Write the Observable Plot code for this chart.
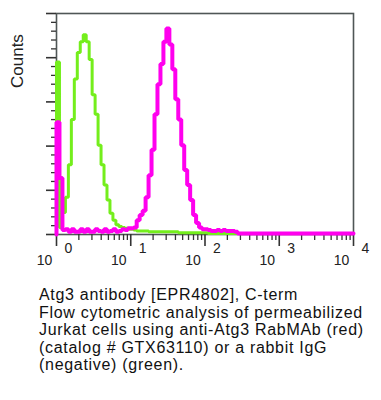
<!DOCTYPE html>
<html>
<head>
<meta charset="utf-8">
<script src="https://cdn.jsdelivr.net/npm/d3@7"></script>
<script src="https://cdn.jsdelivr.net/npm/@observablehq/plot@0.6"></script>
<style>
  html, body { margin: 0; padding: 0; background: #fff; }
  #chart svg { display: block; }
  #caption {
    font-family: "Liberation Sans", Arial, sans-serif;
    font-size: 16px;
    letter-spacing: 0.7px;
    line-height: 17.5px;
    color: #111;
    padding-left: 39px;
    margin-top: 8px;
    white-space: nowrap;
  }
</style>
</head>
<body>
<div id="chart"></div>
<div id="caption">Atg3 antibody [EPR4802], C-term<br>Flow cytometric analysis of permeabilized<br>Jurkat cells using anti-Atg3 RabMAb (red)<br>(catalog # GTX63110) or a rabbit IgG<br>(negative) (green).</div>
<script>
// Histogram channels: 100 bins over 4 decades (log10 0 .. 4)
const channelLogWidth = 0.04;
const decades = [1, 10, 100, 1000, 10000];
const exponentLabels = ["0", "1", "2", "3", "4"];
const baseLabel = "10";
const yMajorTicks = [0, 50, 100, 150, 200, 250];

// Rabbit IgG (negative), green
const greenCounts = [
  195, 8, 25, 42, 79, 130, 176, 206, 218, 226,
  218, 198, 158, 136, 101, 79, 56, 39, 24, 16,
  11, 9, 8, 7, 6, 6, 5, 4, 4, 4,
  4, 3, 3, 3, 3, 3, 3, 3, 3, 3,
  3, 2, 2, 2, 2, 2, 2, 2, 2, 2,
  2, 1, 1, 1, 1, 1, 1, 1, 1, 1,
  1, 1, 1, 1, 1, 1, 1, 1, 1, 1,
  1, 1, 1, 1, 1, 1, 1, 1, 1, 1,
  1, 1, 1, 1, 1, 1, 1, 1, 1, 1,
  1, 1, 1, 1, 1, 1, 1, 1, 1, 1
];
// anti-Atg3 RabMAb, magenta
const magentaCounts = [
  127, 64, 5, 6, 3, 6, 3, 3, 6, 3,
  6, 3, 3, 6, 4, 3, 6, 3, 4, 6,
  3, 4, 6, 5, 7, 7, 8, 16, 22, 27,
  42, 67, 96, 136, 170, 193, 218, 233, 215, 187,
  153, 130, 101, 73, 56, 39, 22, 13, 8, 6,
  6, 5, 4, 4, 5, 4, 5, 4, 4, 4,
  3, 1, 1, 1, 1, 1, 1, 1, 1, 1,
  1, 1, 1, 1, 1, 1, 1, 1, 1, 1,
  1, 1, 1, 1, 1, 1, 1, 1, 1, 1,
  1, 1, 1, 1, 1, 1, 1, 1, 1, 1
];

const edges = d3.range(greenCounts.length + 1).map(i => 10 ** (i * channelLogWidth));
function steps(counts) {
  const rows = [{x: edges[0], y: 0}];
  counts.forEach((c, i) => rows.push({x: edges[i], y: c}));
  rows.push({x: edges[counts.length], y: counts[counts.length - 1]});
  return rows;
}
const greenRows = steps(greenCounts);
const magentaRows = steps(magentaCounts);

const minorX = [];
for (let d = 1; d < 10000; d *= 10) for (let k = 2; k <= 9; k++) minorX.push(d * k);
const minorY = d3.range(0, 251, 10).filter(v => v % 50 !== 0);

const font = "Liberation Sans, Arial, sans-serif";

const chart = Plot.plot({
  width: 381,
  height: 278,
  marginLeft: 56,
  marginRight: 28,
  marginTop: 13,
  marginBottom: 44,
  style: {fontFamily: font, background: "#fff"},
  x: {type: "log", domain: [1, 10000]},
  y: {domain: [0, 250]},
  marks: [
    Plot.frame({stroke: "#4f5656", strokeWidth: 1.6}),
    Plot.axisX({ticks: minorX, tickSize: 6, text: null, label: null, stroke: "#333", strokeWidth: 1.3}),
    Plot.axisX({ticks: decades, tickSize: 12, text: null, label: null, stroke: "#333", strokeWidth: 1.6}),
    Plot.axisY({ticks: minorY, tickSize: 5, text: null, label: null, stroke: "#333", strokeWidth: 1.3}),
    Plot.axisY({ticks: yMajorTicks, tickSize: 10, text: null, label: null, stroke: "#333", strokeWidth: 1.6}),
    Plot.text(decades, {x: d => d, text: (d, i) => exponentLabels[i], frameAnchor: "bottom", dy: 18, dx: 12, fontSize: 14, fill: "#222"}),
    Plot.text(decades, {x: d => d, text: () => baseLabel, frameAnchor: "bottom", dy: 30, dx: -12, fontSize: 14, fill: "#222"}),
    Plot.text(["Counts"], {frameAnchor: "left", dx: -39, dy: -36, rotate: -90, fontSize: 17, fill: "#222"}),
    Plot.line(greenRows, {x: "x", y: "y", curve: "step-after", stroke: "#74ee1c", strokeWidth: 3, strokeLinejoin: "miter"}),
    Plot.line(magentaRows, {x: "x", y: "y", curve: "step-after", stroke: "#ff00ee", strokeWidth: 4, strokeLinejoin: "miter"})
  ]
});
document.getElementById("chart").appendChild(chart);
</script>
</body>
</html>
